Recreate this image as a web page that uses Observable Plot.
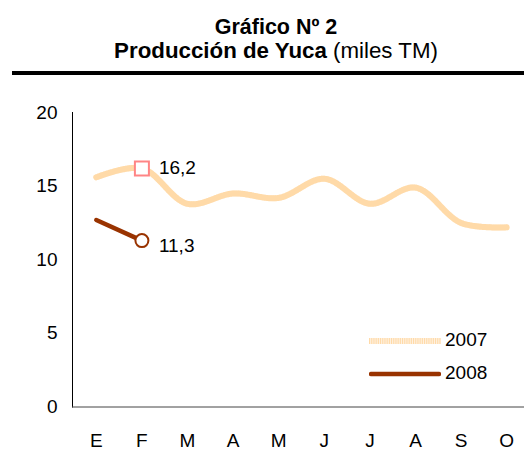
<!DOCTYPE html>
<html><head><meta charset="utf-8">
<script src="https://cdn.jsdelivr.net/npm/d3@7"></script>
<script src="https://cdn.jsdelivr.net/npm/@observablehq/plot@0.6"></script>
<style>
body{margin:0;width:524px;height:449px;overflow:hidden;background:#fff;font-family:"Liberation Sans",Arial,sans-serif;position:relative;color:#000}
.t{position:absolute;left:0;width:552px;text-align:center;line-height:24px;white-space:nowrap}
#t1{top:14.5px;font-weight:bold;font-size:21.5px}
#t2{top:38.5px;font-size:22.3px}
#rule{position:absolute;left:12px;right:0;top:70.5px;height:4px;background:#000}
#chart{position:absolute;left:0;top:80px}
.lg{position:absolute;left:369px;font-size:19px;line-height:20px;white-space:nowrap}
.lg svg{vertical-align:middle}
.lg span{position:absolute;left:76px;top:0}
</style>
</head><body>
<div class="t" id="t1">Gráfico Nº 2</div>
<div class="t" id="t2"><b>Producción de Yuca</b> (miles TM)</div>
<div id="rule"></div>
<div id="chart"></div>
<div class="lg" id="lg1"></div>
<div class="lg" id="lg2"></div>
<script>
const months = ["E","F","M","A","M","J","J","A","S","O"];
const series = ["2007","2008"];
const v2007 = [15.6,16.2,13.8,14.5,14.2,15.5,13.8,14.9,12.5,12.2];
const v2008 = [12.7,11.3];
const yTicks = [0,5,10,15,20];

const cBase = "#FFF1E0", cStripe = "#FFDAA8", c2008 = "#993300", cSquare = "#FF8585";
const idx = (d,i)=>i;
const last = v2008.length - 1;
const fmt = d => String(d).replace(".", ",");
const fs = 19;

const plot = Plot.plot({
  width: 524, height: 369,
  marginLeft: 72, marginRight: -5, marginTop: 32, marginBottom: 42.5,
  style: {fontFamily: '"Liberation Sans", Arial, sans-serif', fontSize: fs + "px", color: "#000", background: "transparent", overflow: "visible"},
  x: {type: "point", domain: d3.range(months.length), padding: 0.5, insetLeft: 1, round: false},
  y: {domain: [0, 20]},
  marks: [
    Plot.frame({anchor: "left", stroke: "#000"}),
    Plot.ruleY([0], {stroke: "#444"}),
    Plot.axisY({ticks: yTicks, tickSize: 0, tickPadding: 15, label: null, fontSize: fs}),
    Plot.axisX({tickSize: 0, tickPadding: 26, label: null, tickFormat: i => months[i], fontSize: fs}),
    Plot.line(v2007, {x: idx, y: d => d, curve: "catmull-rom", stroke: cBase, strokeWidth: 6}),
    Plot.line(v2007, {x: idx, y: d => d, curve: "catmull-rom", stroke: cStripe, strokeWidth: 6, strokeDasharray: "1.1 1.1"}),
    Plot.line(v2008, {x: idx, y: d => d, stroke: c2008, strokeWidth: 4.5, strokeLinecap: "round"}),
    Plot.dot([v2007[last]], {x: () => last, y: d => d, symbol: "square", r: 7.9, fill: "#fff", stroke: cSquare, strokeWidth: 2}),
    Plot.dot([v2008[last]], {x: () => last, y: d => d, r: 6.5, fill: "#fff", stroke: c2008, strokeWidth: 2}),
    Plot.text([v2007[last]], {x: () => last, y: d => d, text: fmt, dx: 17, dy: -1, textAnchor: "start", fill: "#000", fontSize: fs}),
    Plot.text([v2008[last]], {x: () => last, y: d => d, text: fmt, dx: 17, dy: 5, textAnchor: "start", fill: "#000", fontSize: fs})
  ]
});
document.getElementById("chart").appendChild(plot);

function legend(id, top, name, isStriped) {
  const el = document.getElementById(id);
  el.style.top = top + "px";
  const line = isStriped
    ? `<line x1="0" x2="72" y1="10" y2="10" stroke="${cBase}" stroke-width="6"/><line x1="0" x2="72" y1="10" y2="10" stroke="${cStripe}" stroke-width="6" stroke-dasharray="1.1 1.1"/>`
    : `<line x1="2" x2="70" y1="10" y2="10" stroke="${c2008}" stroke-width="4.5" stroke-linecap="round"/>`;
  el.innerHTML = `<svg width="72" height="20">${line}</svg><span>${name}</span>`;
}
legend("lg1", 330, series[0], true);
legend("lg2", 363, series[1], false);
</script>
</body></html>
